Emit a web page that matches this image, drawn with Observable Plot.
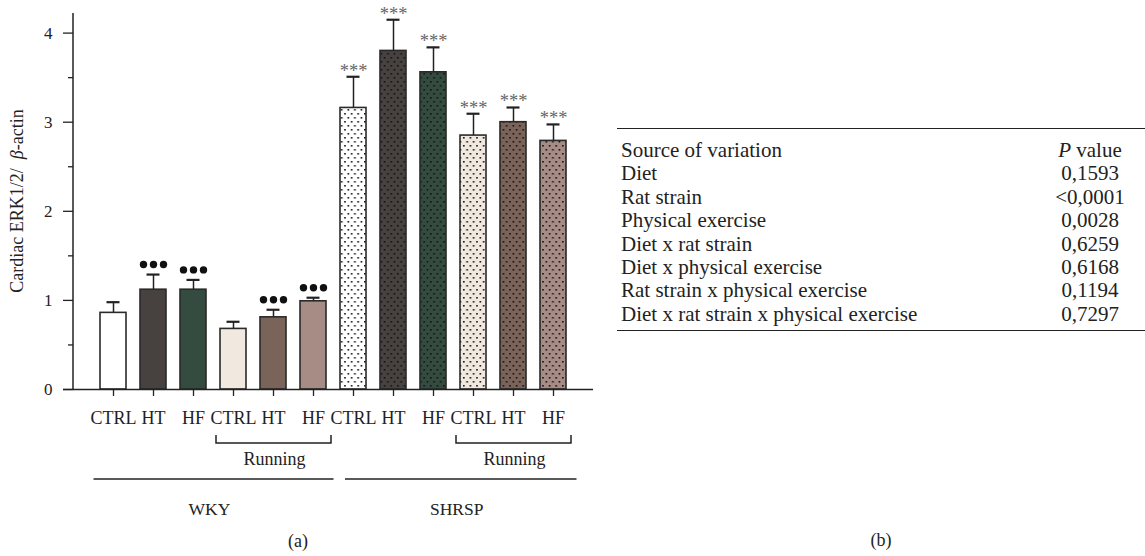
<!DOCTYPE html>
<html>
<head>
<meta charset="utf-8">
<script src="https://cdn.jsdelivr.net/npm/d3@7"></script>
<script src="https://cdn.jsdelivr.net/npm/@observablehq/plot@0.6"></script>
<style>
  html, body { margin: 0; padding: 0; background: #fff; }
  #wrap { position: relative; width: 1145px; height: 556px; overflow: hidden;
          font-family: "Liberation Serif", "Times New Roman", serif; color: #222; }
  #chart { position: absolute; left: 0; top: 0; }
  #panelB { position: absolute; left: 617px; top: 128px; width: 528px; }
  #panelB table { width: 100%; border-collapse: collapse; border-top: 1.5px solid #222;
                  border-bottom: 1.5px solid #222; font-size: 21px; }
  #panelB td { padding: 0; height: 23.4px; line-height: 23.4px; white-space: nowrap; }
  #panelB td.src { padding-left: 4px; text-align: left; }
  #panelB td.p { width: 110px; text-align: center; }
  #panelB tr.first td { padding-top: 10px; }
  #panelB tr.last td { padding-bottom: 4px; }
  #capB { position: absolute; left: 617px; width: 528px; top: 530px; text-align: center; font-size: 18px; }
</style>
</head>
<body>
<div id="wrap">
  <div id="chart"></div>
  <div id="panelB"></div>
  <div id="capB">(b)</div>
</div>
<script>
// ---- data (panel a) ----
const strains   = ["WKY","WKY","WKY","WKY","WKY","WKY","SHRSP","SHRSP","SHRSP","SHRSP","SHRSP","SHRSP"];
const exercise  = ["Sed","Sed","Sed","Running","Running","Running","Sed","Sed","Sed","Running","Running","Running"];
const tickLabels = ["CTRL","HT","HF","CTRL","HT","HF","CTRL","HT","HF","CTRL","HT","HF"];
const means  = [0.86, 1.12, 1.12, 0.68, 0.81, 0.99, 3.16, 3.80, 3.56, 2.85, 3.00, 2.79];
const errors = [0.12, 0.17, 0.11, 0.08, 0.085, 0.04, 0.35, 0.35, 0.28, 0.245, 0.165, 0.185];
const signif = ["", "●●●", "●●●", "", "●●●", "●●●", "***", "***", "***", "***", "***", "***"];
const fillColors = ["#ffffff","#474140","#344c40","#f1e9df","#7a645a","#a68c85",
                    "#ffffff","#474140","#344c40","#f1e9df","#7a645a","#a68c85"];
const dotted = [false,false,false,false,false,false,true,true,true,true,true,true];
const yTicks = [0, 1, 2, 3, 4];
const yMinorTicks = [0.5, 1.5, 2.5, 3.5];
const yLabel = ["Cardiac ERK1/2/", "β", "-actin"];
const caption = "(a)";

// ---- data (panel b) ----
const sources = ["Diet","Rat strain","Physical exercise","Diet x rat strain","Diet x physical exercise",
                 "Rat strain x physical exercise","Diet x rat strain x physical exercise"];
const pValues = ["0,1593","<0,0001","0,0028","0,6259","0,6168","0,1194","0,7297"];

const keys = tickLabels.map((t, i) => `${strains[i]} ${exercise[i]} ${t}`);
const data = keys.map((key, i) => ({
  key, idx: i, strain: strains[i], ex: exercise[i], label: tickLabels[i],
  mean: means[i], err: errors[i], top: means[i] + errors[i], sig: signif[i],
  fill: dotted[i] ? `url(#dots${i})` : fillColors[i]
}));
const labelOf = new Map(keys.map((k, i) => [k, tickLabels[i]]));
const FONT = "'Liberation Serif', 'Times New Roman', serif";
const INK = "#222";

function patternDefs() {
  const defs = d3.create("svg:defs");
  fillColors.forEach((c, i) => {
    if (!dotted[i]) return;
    const p = defs.append("pattern").attr("id", "dots" + i)
      .attr("patternUnits", "userSpaceOnUse").attr("width", 6.6).attr("height", 8);
    p.append("rect").attr("width", 6.6).attr("height", 8).attr("fill", c);
    p.append("rect").attr("x", 1).attr("y", 1).attr("width", 1.6).attr("height", 1.6).attr("fill", "#111");
    p.append("rect").attr("x", 4.3).attr("y", 5).attr("width", 1.6).attr("height", 1.6).attr("fill", "#111");
  });
  return defs.node();
}

function annotations(index, scales, values, dim) {
  const x = scales.x, y = scales.y;
  const bw = x.bandwidth();
  const y0 = y(0);
  const L = dim.marginLeft, T = dim.marginTop;
  const g = d3.create("svg:g").attr("font-family", FONT).attr("fill", INK);
  // y axis line
  g.append("line").attr("x1", L).attr("x2", L).attr("y1", T).attr("y2", y0)
    .attr("stroke", INK).attr("stroke-width", 1.5);
  // y title
  const t = g.append("text").attr("transform", `translate(23,${(T + y0) / 2}) rotate(-90)`)
    .attr("text-anchor", "middle").attr("font-size", 18);
  t.append("tspan").text(yLabel[0] + "\u00a0\u00a0");
  t.append("tspan").attr("font-style", "italic").text(yLabel[1]);
  t.append("tspan").text(yLabel[2]);
  // Running brackets
  for (const s of ["WKY", "SHRSP"]) {
    const ks = keys.filter((k, i) => strains[i] === s && exercise[i] === "Running");
    const x1 = x(ks[0]) - 4, x2 = x(ks[ks.length - 1]) + bw + 5;
    g.append("path").attr("d", `M${x1},${y0 + 46}V${y0 + 54}H${x2}V${y0 + 46}`)
      .attr("fill", "none").attr("stroke", INK).attr("stroke-width", 1.5);
    g.append("text").attr("x", (x1 + x2) / 2 + 1).attr("y", y0 + 76)
      .attr("text-anchor", "middle").attr("font-size", 18).text("Running");
  }
  // strain lines
  const adj = {WKY: [-6.5, 7.5], SHRSP: [5, 10.5]};
  for (const s of ["WKY", "SHRSP"]) {
    const ks = keys.filter((k, i) => strains[i] === s);
    const x1 = x(ks[0]) + adj[s][0], x2 = x(ks[ks.length - 1]) + bw + adj[s][1];
    g.append("line").attr("x1", x1).attr("x2", x2).attr("y1", y0 + 90).attr("y2", y0 + 90)
      .attr("stroke", INK).attr("stroke-width", 1.5);
    g.append("text").attr("x", (x1 + x2) / 2 - 4).attr("y", y0 + 126)
      .attr("text-anchor", "middle").attr("font-size", 17.5).text(s);
  }
  g.append("text").attr("x", dim.width / 2 - 2).attr("y", y0 + 158)
    .attr("text-anchor", "middle").attr("font-size", 18).text(caption);
  return g.node();
}

const markerRows = data.filter(d => d.sig === "●●●");
const starRows = data.filter(d => d.sig === "***");

const chart = Plot.plot({
  width: 600,
  height: 556,
  marginLeft: 73,
  marginRight: 7,
  marginTop: 13,
  marginBottom: 167,
  style: {fontFamily: FONT, fontSize: "17px", color: INK, background: "transparent", overflow: "visible"},
  x: {domain: keys, paddingInner: 0.35, paddingOuter: 0.54},
  y: {domain: [0, 4.22]},
  color: {type: "identity"},
  marks: [
    patternDefs,
    Plot.barY(data, {x: "key", y: "mean", fill: "fill", stroke: "#2a2a2a", strokeWidth: 1.6}),
    Plot.ruleX(data, {x: "key", y1: "mean", y2: "top", stroke: INK, strokeWidth: 1.5}),
    Plot.tickY(data, {x: "key", y: "top", stroke: INK, strokeWidth: 2.2, insetLeft: 6.5, insetRight: 6.5}),
    Plot.text(starRows, {x: "key", y: "top", text: "sig", fill: "#666", fontSize: 18.5, dy: -6}),
    Plot.dot(markerRows, {x: "key", y: "top", dy: -10, dx: -10, r: 3.7, fill: "#111", stroke: null}),
    Plot.dot(markerRows, {x: "key", y: "top", dy: -10, dx: 0, r: 3.7, fill: "#111", stroke: null}),
    Plot.dot(markerRows, {x: "key", y: "top", dy: -10, dx: 10, r: 3.7, fill: "#111", stroke: null}),
    Plot.ruleY([0], {stroke: INK, strokeWidth: 1.5, insetLeft: -10}),
    Plot.axisY({ticks: yTicks, tickSize: 10, tickPadding: 11, fontSize: 17, tickFormat: d => String(d), label: null, stroke: INK, strokeWidth: 1.3}),
    Plot.axisY({ticks: yMinorTicks, tickSize: 5, tickFormat: () => "", label: null, stroke: INK, strokeWidth: 1.3}),
    Plot.axisX({tickSize: 7, tickPadding: 15, fontSize: 18, tickFormat: k => labelOf.get(k), label: null, stroke: INK, strokeWidth: 1.3}),
    annotations
  ]
});
document.getElementById("chart").appendChild(chart);

// panel b table
const table = d3.select("#panelB").append("table");
const rows = [["Source of variation", null]].concat(sources.map((s, i) => [s, pValues[i]]));
rows.forEach((r, i) => {
  const tr = table.append("tr").attr("class", i === 0 ? "first" : (i === rows.length - 1 ? "last" : null));
  tr.append("td").attr("class", "src").text(r[0]);
  const td = tr.append("td").attr("class", "p");
  if (r[1] === null) { td.append("i").text("P"); td.append("span").text(" value"); }
  else td.text(r[1]);
});
</script>
</body>
</html>
